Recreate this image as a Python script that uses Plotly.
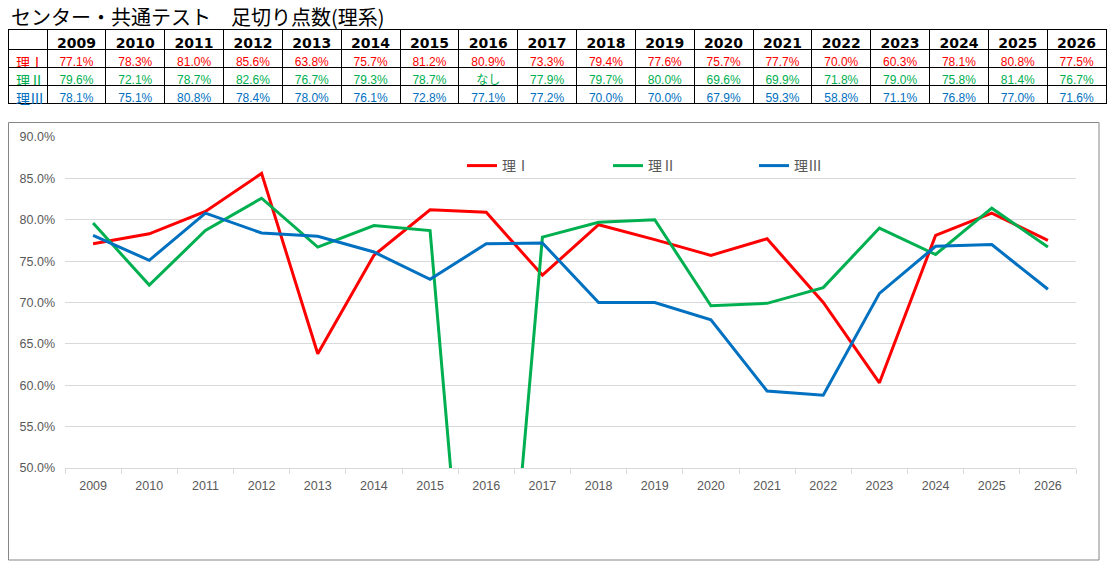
import plotly.graph_objects as go

years = [str(y) for y in range(2009, 2027)]
series_names = ["理Ⅰ", "理Ⅱ", "理Ⅲ"]
ri1 = [77.1, 78.3, 81.0, 85.6, 63.8, 75.7, 81.2, 80.9, 73.3, 79.4, 77.6, 75.7, 77.7, 70.0, 60.3, 78.1, 80.8, 77.5]
ri2 = [79.6, 72.1, 78.7, 82.6, 76.7, 79.3, 78.7, None, 77.9, 79.7, 80.0, 69.6, 69.9, 71.8, 79.0, 75.8, 81.4, 76.7]
ri3 = [78.1, 75.1, 80.8, 78.4, 78.0, 76.1, 72.8, 77.1, 77.2, 70.0, 70.0, 67.9, 59.3, 58.8, 71.1, 76.8, 77.0, 71.6]
missing_label = "なし"
title_text = "センター・共通テスト　足切り点数(理系)"

colors = ["#FF0000", "#00B050", "#0070C0"]
W, H = 1110, 572

def px_x(x):
    return x / W

def px_y(y):
    return 1 - y / H

all_series = [ri1, ri2, ri3]

fig = go.Figure()

# ---- table ----
def fmt(v):
    return missing_label if v is None else f"{v:.1f}%"

columns = [series_names] + [[fmt(s[i]) for s in all_series] for i in range(len(years))]
font_colors = [[c for c in colors] for _ in range(len(years) + 1)]
font_sizes = [14] + [12] * len(years)
aligns = ["left"] + ["center"] * len(years)

fig.add_trace(go.Table(
    domain=dict(x=[px_x(8), px_x(1106)], y=[px_y(106), px_y(29)]),
    columnwidth=[39] + [58.8] * len(years),
    header=dict(
        values=[""] + years,
        fill_color="white",
        line=dict(color="black", width=1),
        font=dict(family="DejaVu Sans", size=14, color="black", weight="bold"),
        align="center",
        height=20,
    ),
    cells=dict(
        values=columns,
        fill_color="white",
        line=dict(color="black", width=1),
        font=dict(family="Liberation Sans, Noto Sans CJK JP", size=font_sizes, color=font_colors),
        align=aligns,
        height=18,
    ),
))

# ---- lines ----
for name, s, c in zip(series_names, all_series, colors):
    yv = [(0 if v is None else v) / 100 for v in s]
    fig.add_trace(go.Scatter(
        x=years, y=yv, name=name, mode="lines",
        line=dict(color=c, width=3),
        hoverinfo="skip",
    ))

fig.update_layout(
    width=W, height=H,
    margin=dict(l=0, r=0, t=0, b=0, autoexpand=False),
    paper_bgcolor="white", plot_bgcolor="white",
    font=dict(family="Liberation Sans, Noto Sans CJK JP", color="#595959"),
    xaxis=dict(
        domain=[px_x(65), px_x(1076)],
        type="category",
        range=[-0.5, len(years) - 0.5],
        automargin=False,
        showgrid=False,
        showline=True, linecolor="#D9D9D9", linewidth=1,
        ticks="outside", tickson="boundaries", ticklen=5, tickcolor="#D9D9D9",
        tickfont=dict(size=12.5, color="#595959"),
        ticklabelstandoff=6,
        fixedrange=True,
    ),
    yaxis=dict(
        domain=[px_y(468), px_y(137)],
        range=[0.5, 0.9],
        dtick=0.05,
        tickformat=".1%",
        automargin=False,
        showgrid=True, gridcolor="#D9D9D9", gridwidth=1,
        zeroline=False, showline=False,
        tickfont=dict(size=12.5, color="#595959"),
        ticklabelstandoff=9,
    ),
    legend=dict(
        orientation="h",
        x=px_x(462), xanchor="left",
        y=px_y(166), yanchor="middle",
        font=dict(size=14, color="#595959"),
        entrywidth=101, entrywidthmode="pixels",
        bgcolor="rgba(0,0,0,0)",
    ),
    showlegend=True,
)

fig.add_shape(type="rect", xref="paper", yref="paper",
              x0=px_x(8.5), x1=px_x(1099), y0=px_y(560), y1=px_y(122.5),
              line=dict(color="#868686", width=1), layer="below")

fig.add_annotation(text=title_text, xref="paper", yref="paper",
                   x=px_x(9), y=px_y(16), xanchor="left", yanchor="middle",
                   showarrow=False,
                   font=dict(family="Noto Sans CJK JP", size=20, color="black"))

fig.write_html(
    "out.html",
    config={"displayModeBar": False},
    post_script="document.body.style.margin='0';document.body.style.overflow='hidden';",
)
